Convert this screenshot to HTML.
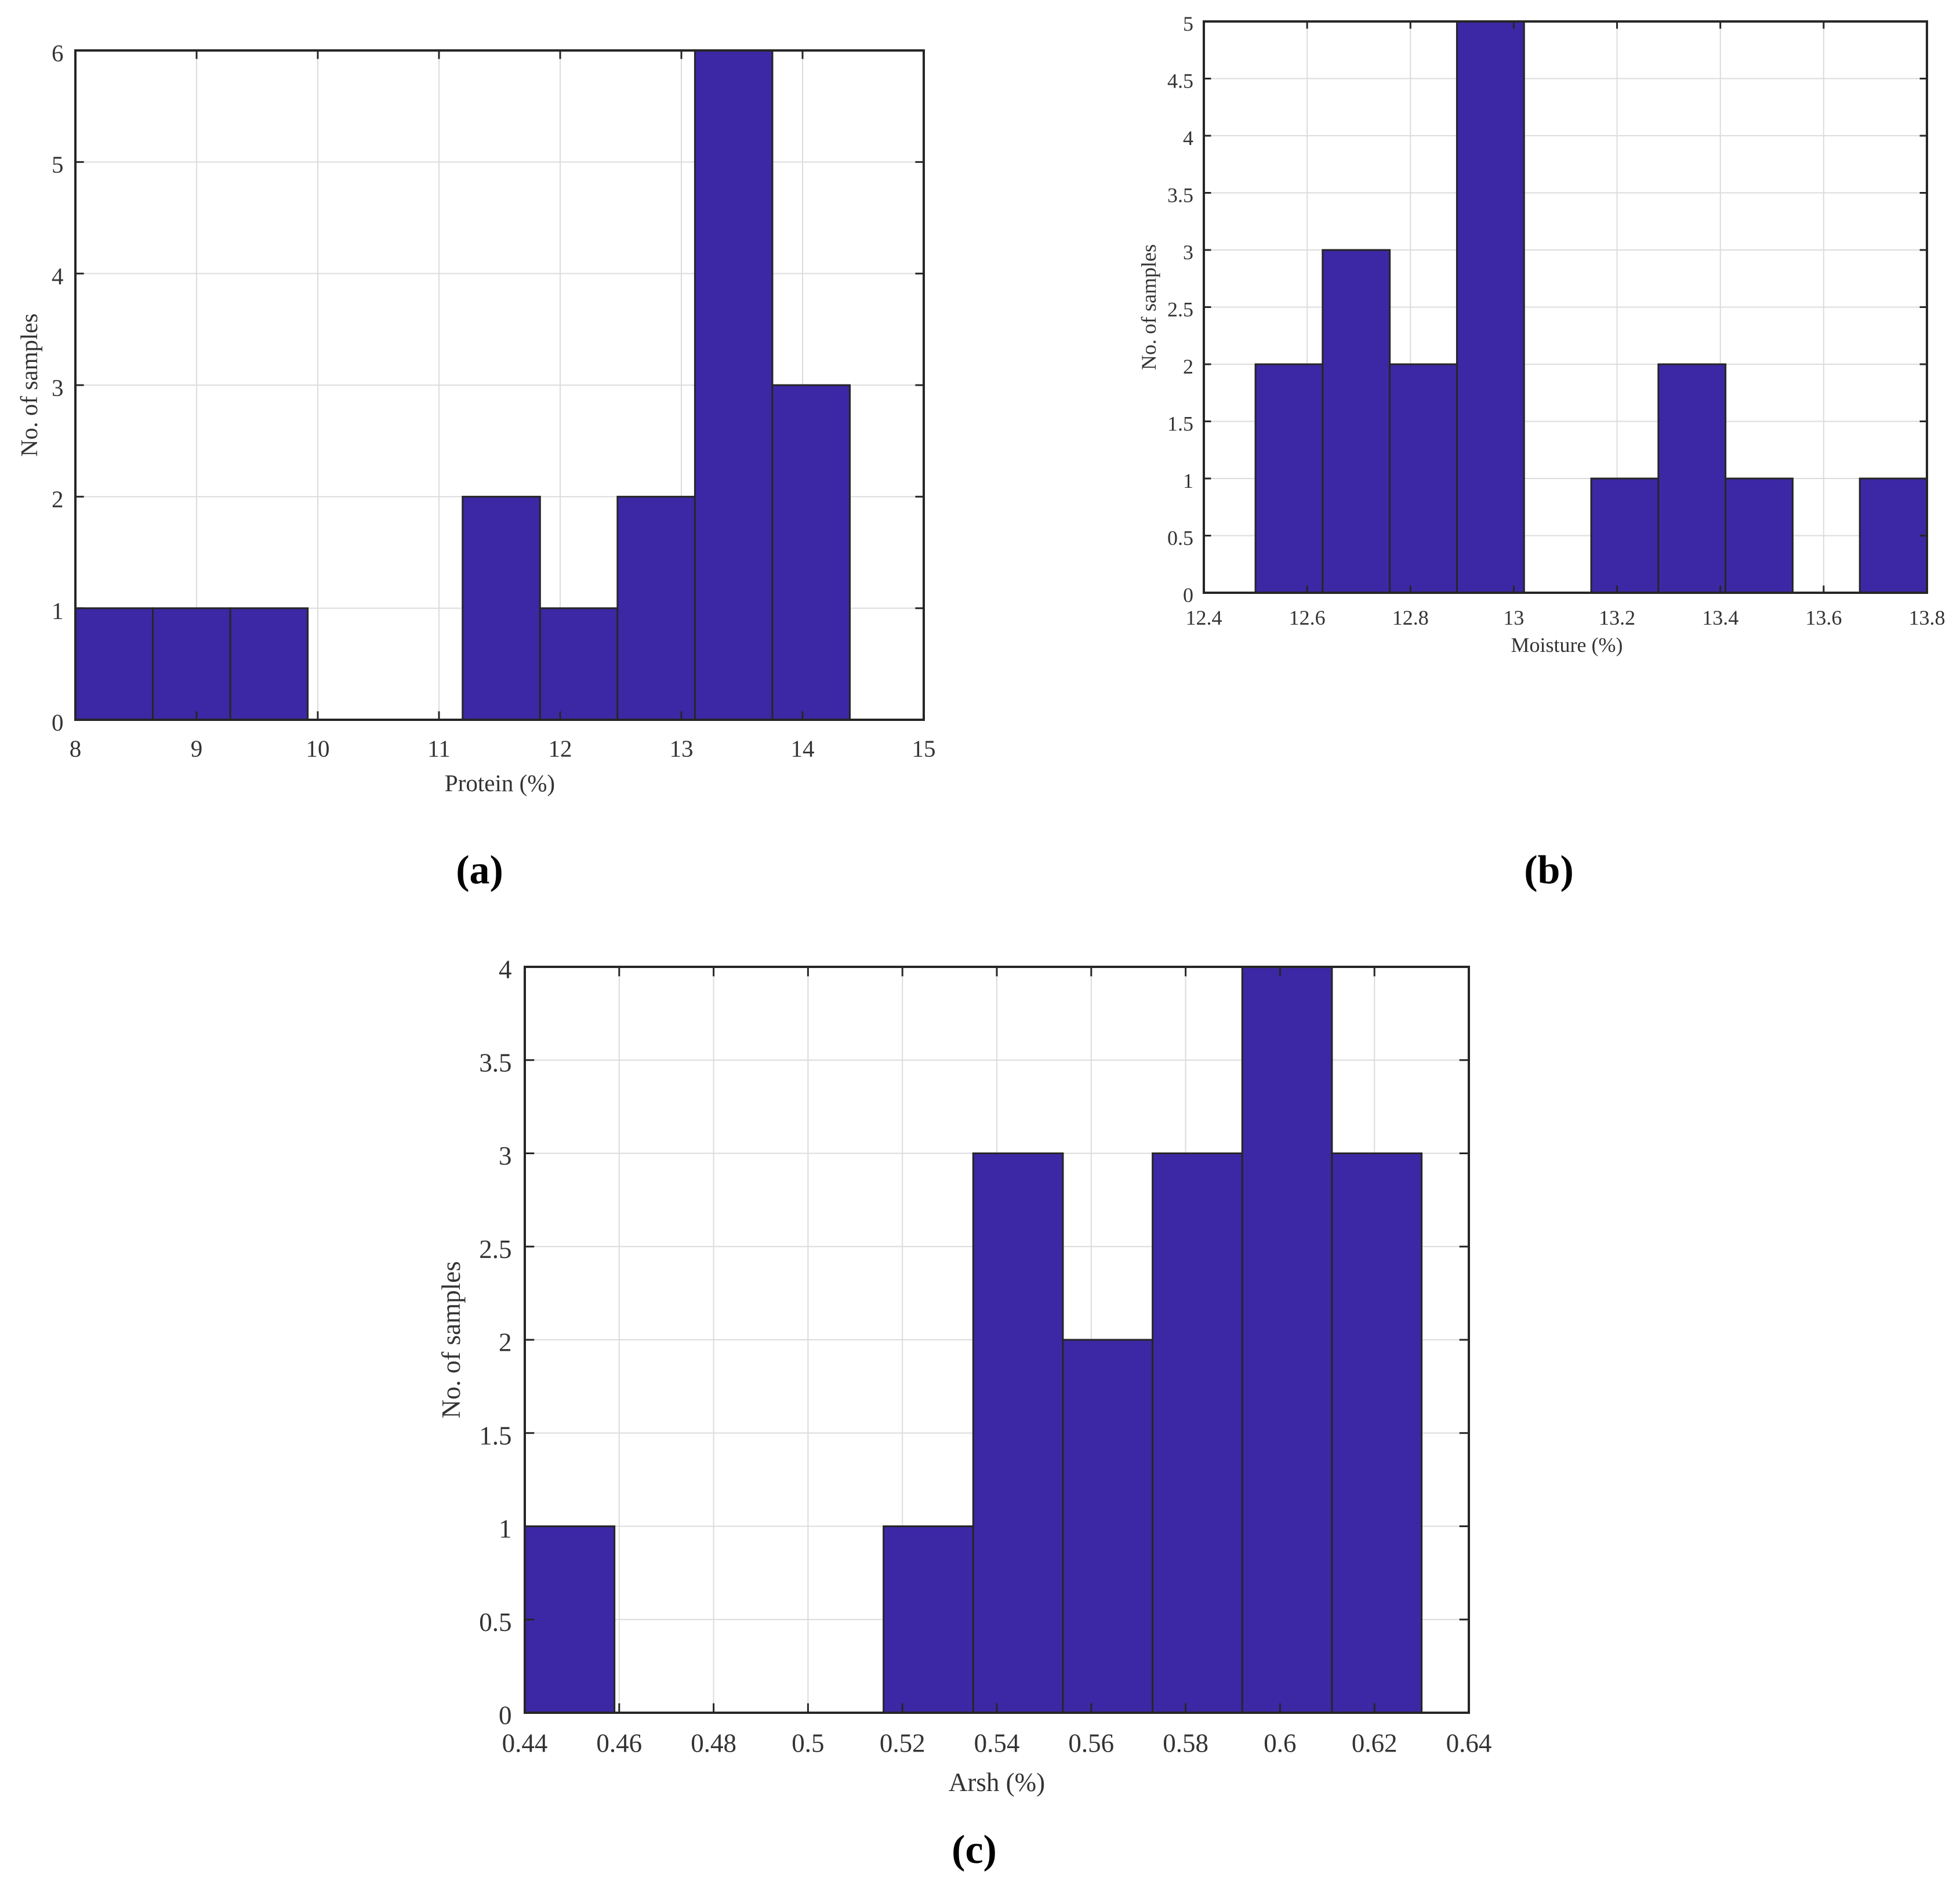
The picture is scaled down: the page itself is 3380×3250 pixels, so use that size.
<!DOCTYPE html>
<html><head><meta charset="utf-8"><style>
html,body{margin:0;padding:0;background:#fff;}
svg{display:block;}
text{font-family:"Liberation Serif",serif;fill:#333;}
</style></head>
<body>
<svg id="fig" width="3380" height="3250" viewBox="0 0 3380 3250" xmlns="http://www.w3.org/2000/svg"></svg>
<script>
// Panel (a) Protein
const proteinBinStart = 8;
const proteinBinWidth = 0.639;
const proteinCounts = [1, 1, 1, 0, 0, 2, 1, 2, 6, 3];
const proteinXTicks = [8, 9, 10, 11, 12, 13, 14, 15];
const proteinYTicks = [0, 1, 2, 3, 4, 5, 6];
// Panel (b) Moisture
const moistureBinStart = 12.5;
const moistureBinWidth = 0.13;
const moistureCounts = [2, 3, 2, 5, 0, 1, 2, 1, 0, 1];
const moistureXTicks = ["12.4", "12.6", "12.8", "13", "13.2", "13.4", "13.6", "13.8"];
const moistureYTicks = ["0", "0.5", "1", "1.5", "2", "2.5", "3", "3.5", "4", "4.5", "5"];
// Panel (c) Arsh
const arshBinStart = 0.44;
const arshBinWidth = 0.019;
const arshCounts = [1, 0, 0, 0, 1, 3, 2, 3, 4, 3];
const arshXTicks = ["0.44", "0.46", "0.48", "0.5", "0.52", "0.54", "0.56", "0.58", "0.6", "0.62", "0.64"];
const arshYTicks = ["0", "0.5", "1", "1.5", "2", "2.5", "3", "3.5", "4"];

const NS = "http://www.w3.org/2000/svg";
const fig = document.getElementById("fig");
function mk(tag, attrs, parent) {
  const e = document.createElementNS(NS, tag);
  for (const k in attrs) e.setAttribute(k, attrs[k]);
  parent.appendChild(e);
  return e;
}

function panel(p) {
  const g = mk("g", {}, fig);
  
  
  const xs = v => p.L + (v - p.xmin) / (p.xmax - p.xmin) * (p.R - p.L);
  const ys = v => p.B - (v - p.ymin) / (p.ymax - p.ymin) * (p.B - p.T);
  p.xticks.forEach(t => {
    const x = xs(+t);
    const l = mk("line", {x1: x, x2: x, y1: p.T, y2: p.B, stroke: "#dcdcdc", "stroke-width": 2}, g);
    
    
  });
  p.yticks.forEach(t => {
    const y = ys(+t);
    const l = mk("line", {x1: p.L, x2: p.R, y1: y, y2: y, stroke: "#dcdcdc", "stroke-width": 2}, g);
    
    
  });
  p.counts.forEach((c, i) => {
    if (c <= 0) return;
    const x0 = xs(p.start + i * p.width), x1 = xs(p.start + (i + 1) * p.width);
    const r = mk("rect", {x: x0, y: ys(c), width: x1 - x0, height: ys(0) - ys(c), fill: "#3c28a4", stroke: "#262626", "stroke-width": 3}, g);
    
    
  });
  const box = mk("rect", {x: p.L, y: p.T, width: p.R - p.L, height: p.B - p.T, fill: "none", stroke: "#262626", "stroke-width": 4}, g);
  
  
  const tl = (p.R - p.L) * 0.01;
  p.xticks.forEach(t => {
    const x = xs(+t);
    mk("line", {x1: x, x2: x, y1: p.B, y2: p.B - tl, stroke: "#262626", "stroke-width": 3}, g);
    mk("line", {x1: x, x2: x, y1: p.T, y2: p.T + tl, stroke: "#262626", "stroke-width": 3}, g);
    const tx = mk("text", {x: x, y: p.B + p.fs * 1.25 + p.xoff, "font-size": p.fs, "text-anchor": "middle"}, g);
    tx.textContent = t;
    
    
  });
  p.yticks.forEach(t => {
    const y = ys(+t);
    mk("line", {x1: p.L, x2: p.L + tl, y1: y, y2: y, stroke: "#262626", "stroke-width": 3}, g);
    mk("line", {x1: p.R, x2: p.R - tl, y1: y, y2: y, stroke: "#262626", "stroke-width": 3}, g);
    const tx = mk("text", {x: p.L - p.fs * 0.5, y: y + p.fs * 0.3 + p.yoff, "font-size": p.fs, "text-anchor": "end"}, g);
    tx.textContent = t;
    
    
  });
  const xt = mk("text", {x: p.xtx, y: p.xty, "font-size": p.fs, "text-anchor": "middle"}, g);
  xt.textContent = p.xtitle;
  
  
  const cy = (p.T + p.B) / 2;
  const yt = mk("text", {x: p.ytx, y: cy, "font-size": p.fs, "text-anchor": "middle", transform: "rotate(-90 " + p.ytx + " " + cy + ")"}, g);
  yt.textContent = "No. of samples";
  
  
  const cap = mk("text", {x: p.capx, y: p.capy, "font-size": 70, "font-weight": "bold", "text-anchor": "middle", style: "fill:#000"}, g);
  cap.textContent = p.cap;
  
  
}

panel({name: "protein-histogram", L: 130, R: 1593, T: 87, B: 1241, xmin: 8, xmax: 15, ymin: 0, ymax: 6,
  start: proteinBinStart, width: proteinBinWidth, counts: proteinCounts, xticks: proteinXTicks, yticks: proteinYTicks,
  fs: 41, xoff: 12, yoff: 6, xtitle: "Protein (%)", xtx: 862, xty: 1364, ytx: 64, cap: "(a)", capx: 827, capy: 1523});
panel({name: "moisture-histogram", L: 2076, R: 3323, T: 37, B: 1022, xmin: 12.4, xmax: 13.8, ymin: 0, ymax: 5,
  start: moistureBinStart, width: moistureBinWidth, counts: moistureCounts, xticks: moistureXTicks, yticks: moistureYTicks,
  fs: 36, xoff: 10, yoff: 5, xtitle: "Moisture (%)", xtx: 2702, xty: 1124, ytx: 1993, cap: "(b)", capx: 2671, capy: 1523});
panel({name: "arsh-histogram", L: 905, R: 2533, T: 1667, B: 2953, xmin: 0.44, xmax: 0.64, ymin: 0, ymax: 4,
  start: arshBinStart, width: arshBinWidth, counts: arshCounts, xticks: arshXTicks, yticks: arshYTicks,
  fs: 45, xoff: 11, yoff: 6, xtitle: "Arsh (%)", xtx: 1719, xty: 3088, ytx: 793, cap: "(c)", capx: 1680, capy: 3212});
</script>
</body></html>
